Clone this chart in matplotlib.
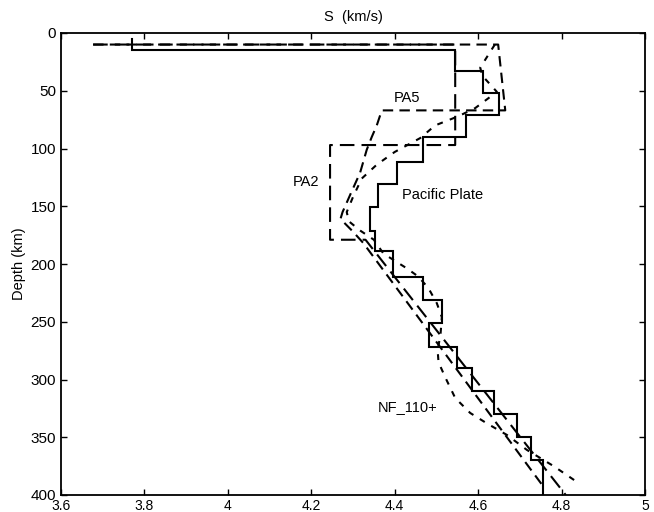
import numpy as np
import matplotlib
matplotlib.use("Agg")
import matplotlib.pyplot as plt

plt.rcParams['font.family'] = ['Liberation Sans', 'DejaVu Sans']

# Pacific Plate layered model: layer top depths (km) and S velocity (km/s)
pac_depth = [5, 15, 33, 52, 71, 90, 112, 131, 151, 171, 189, 211, 231, 251,
             272, 290, 310, 330, 350, 370, 400]
pac_vs = [3.77, 4.545, 4.612, 4.649, 4.570, 4.469, 4.405, 4.361, 4.341, 4.353,
          4.395, 4.467, 4.513, 4.483, 4.549, 4.585, 4.638, 4.693, 4.726, 4.755]

# PA2 model vertices
pa2_vs = [3.677, 4.545, 4.545, 4.245, 4.245, 4.33, 4.81]
pa2_depth = [10, 10, 97, 97, 179, 179, 400]

# PA5 model vertices
pa5_vs = [3.677, 4.648, 4.665, 4.369, 4.357, 4.345, 4.333, 4.317, 4.297,
          4.275, 4.27, 4.30, 4.325, 4.757]
pa5_depth = [10, 10, 67, 67, 80, 90, 101, 121, 137, 155, 161, 172, 182, 393]

# NF_110+ model
nf_vs = [4.64, 4.605, 4.61, 4.645, 4.63, 4.593, 4.553, 4.497, 4.461, 4.40,
         4.357, 4.321, 4.30, 4.285, 4.29, 4.317, 4.35, 4.373, 4.43, 4.457,
         4.481, 4.501, 4.513, 4.51, 4.503, 4.505, 4.521, 4.545, 4.581, 4.621,
         4.669, 4.717, 4.781, 4.834]
nf_depth = [10, 30, 37, 51, 55, 65, 72, 80, 91, 103, 114, 126, 142, 155, 163,
            171, 179, 191, 204, 211, 221, 234, 246, 260, 275, 285, 298, 316,
            329, 338, 348, 361, 375, 388]

x_ticks = [3.6, 3.8, 4.0, 4.2, 4.4, 4.6, 4.8, 5.0]
x_ticklabels = ['3.6', '3.8', '4', '4.2', '4.4', '4.6', '4.8', '5']
y_ticks = [0, 50, 100, 150, 200, 250, 300, 350, 400]

fig = plt.figure(figsize=(6.54, 5.12), dpi=100)
ax = fig.add_axes([61 / 654, 1 - 495 / 512, 584 / 654, 462 / 512])

# step path for the layered model
sx = np.repeat(pac_vs, 2)
sy = np.column_stack([pac_depth[:-1], pac_depth[1:]]).ravel()
ax.plot(sx, sy, color='black', lw=1.5, solid_joinstyle='miter')

l2, = ax.plot(pa2_vs, pa2_depth, color='black', lw=1.5)
l2.set_dashes([7, 3.4])
l5, = ax.plot(pa5_vs, pa5_depth, color='black', lw=1.5)
l5.set_dashes([5, 3])
ln, = ax.plot(nf_vs, nf_depth, color='black', lw=1.5)
ln.set_dashes([2.8, 3.6])

ax.text(4.418, 140, 'Pacific Plate', fontsize=10.5, va='center', ha='left')
ax.text(4.43, 56, 'PA5', fontsize=10.5, va='center', ha='center')
ax.text(4.187, 129, 'PA2', fontsize=10.5, va='center', ha='center')
ax.text(4.36, 324, 'NF_110+', fontsize=10.5, va='center', ha='left')

ax.set_xlim(3.6, 5.0)
ax.set_ylim(400, 0)
ax.set_xticks(x_ticks)
ax.set_xticklabels(x_ticklabels)
ax.set_yticks(y_ticks)
ax.tick_params(direction='in', length=4, width=1, labelsize=11,
               top=True, right=True, pad=3.5)
ax.tick_params(axis='x', labelsize=10, pad=3)
for s in ax.spines.values():
    s.set_linewidth(1.3)

ax.set_title('S  (km/s)', fontsize=10.5, pad=9)
ax.set_ylabel('Depth (km)', fontsize=10.5, labelpad=3)

fig.savefig('out.png', dpi=100)
